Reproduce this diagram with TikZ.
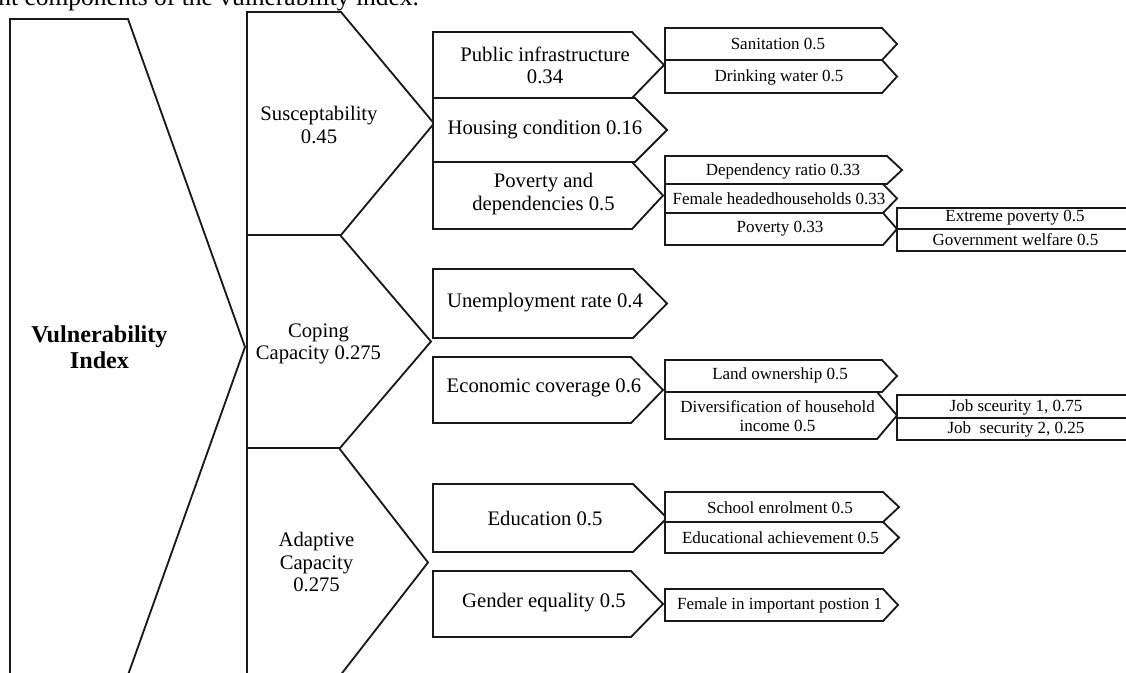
\documentclass[tikz,border=0pt]{standalone}
\usepackage{fontspec}
\setmainfont{Liberation Serif}
\tikzset{
  shp/.style={draw=black!90, line width=1.1pt, fill=white, line join=miter},
  bigtxt/.style={font=\fontsize{14.5}{15.6}\selectfont\bfseries, align=center, inner sep=0pt},
  midtxt/.style={font=\fontsize{12.4}{13.3}\selectfont, align=center, inner sep=0pt},
  smltxt/.style={font=\fontsize{10.2}{11}\selectfont, align=center, inner sep=0pt},
  captxt/.style={font=\fontsize{15.3}{18}\selectfont, anchor=base west, inner sep=0pt}
}
\newcommand{\chevshape}[5]{\draw[shp] (#1,#2) -- (#3,#2) -- (#5,{(#2+#4)/2}) -- (#3,#4) -- (#1,#4) -- cycle;}
\begin{document}
\begin{tikzpicture}[x=0.6pt,y=-0.6pt]
\useasboundingbox (0,0) rectangle (1126,672);
\fill[white] (0,0) rectangle (1126,672);
\clip (0,0) rectangle (1126,672);
% caption fragment (cut off at the top edge, as in the reference)
\node[captxt] (cap) at (-2,5.5) {nt components of the vulnerability index.};
% level 0
\chevshape{10}{19}{128}{675}{245}
% level 1
\chevshape{247}{12}{341}{235}{434}
\chevshape{247}{235}{340}{448}{431}
\chevshape{247}{448}{339}{677}{428}
% level 2
\chevshape{433}{32}{632}{98}{664}
\chevshape{433}{98}{635}{162}{667}
\chevshape{433}{162}{632}{229}{663}
\chevshape{433}{269}{633}{338}{667}
\chevshape{433}{357}{631}{423}{663}
\chevshape{433}{484}{633}{552}{667}
\chevshape{433}{571}{631}{637}{663}
% level 3
\chevshape{665}{28}{882}{60}{897}
\chevshape{665}{60}{882}{93}{897}
\chevshape{665}{156}{887}{184}{902}
\chevshape{665}{184}{883}{213}{897}
\chevshape{665}{213}{883}{245}{897}
\chevshape{665}{360}{882}{392}{897}
\chevshape{665}{392}{877}{439}{897}
\chevshape{665}{492}{883}{522}{899}
\chevshape{665}{522}{883}{553}{899}
\chevshape{665}{589}{883}{621}{898}
% level 4
\chevshape{897}{208}{1130}{229}{1145}
\chevshape{897}{229}{1130}{251}{1145}
\chevshape{897}{395}{1130}{418}{1145}
\chevshape{897}{418}{1130}{440}{1145}
% texts
\node[bigtxt] (vi) at (99.5,347) {Vulnerability\\Index};
\node[midtxt] (sus) at (319,125) {Susceptability\\0.45};
\node[midtxt] (cop) at (318.5,344) {Coping\\Capacity 0.275};
\node[midtxt] (ada) at (316.5,562) {Adaptive\\Capacity\\0.275};
\node[midtxt] (pub) at (545,65) {Public infrastructure\\0.34};
\node[midtxt] (hou) at (545,130) {Housing condition 0.16};
\node[midtxt] (pov) at (543.5,194) {Poverty and\\dependencies 0.5};
\node[midtxt] (une) at (545,303) {Unemployment rate 0.4};
\node[midtxt] (eco) at (544,388) {Economic coverage 0.6};
\node[midtxt] (edu) at (545,518) {Education 0.5};
\node[midtxt] (gen) at (544,603) {Gender equality 0.5};
\node[smltxt] (san) at (778,44) {Sanitation 0.5};
\node[smltxt] (dri) at (779,77) {Drinking water 0.5};
\node[smltxt] (dep) at (783,171) {Dependency ratio 0.33};
\node[smltxt] (fem) at (779,199) {Female headedhouseholds 0.33};
\node[smltxt] (pvt) at (780,229) {Poverty 0.33};
\node[smltxt] (ext) at (1015,218) {Extreme poverty 0.5};
\node[smltxt] (gov) at (1015.5,240) {Government welfare 0.5};
\node[smltxt] (lan) at (780,375) {Land ownership 0.5};
\node[smltxt] (div) at (777.5,416) {Diversification of household\\income 0.5};
\node[smltxt] (jb1) at (1016,407) {Job sceurity 1, 0.75};
\node[smltxt] (jb2) at (1016,429.5) {Job\ \ security 2, 0.25};
\node[smltxt] (sch) at (780,507.5) {School enrolment 0.5};
\node[smltxt] (eda) at (780.5,538) {Educational achievement 0.5};
\node[smltxt] (fpo) at (779.5,605) {Female in important postion 1};
\end{tikzpicture}
\end{document}
